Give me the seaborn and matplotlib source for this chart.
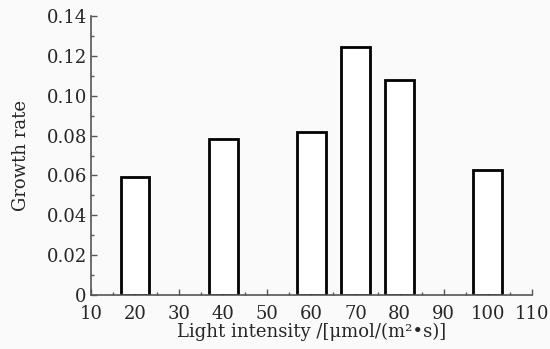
import matplotlib
matplotlib.use("Agg")
import matplotlib.pyplot as plt
import matplotlib.transforms as mtransforms
import seaborn as sns
import pandas as pd
from matplotlib.ticker import MultipleLocator, FormatStrFormatter, FuncFormatter

intensity = [20, 40, 60, 70, 80, 100]
growth = [0.0594, 0.0785, 0.0820, 0.1245, 0.1080, 0.0627]

sns.set_style("ticks")
plt.rcParams['font.family'] = ['DejaVu Serif']

df = pd.DataFrame({"x": intensity, "y": growth})
fig = plt.figure(figsize=(5.5, 3.49), dpi=100)
fig.patch.set_facecolor('#fafafa')
ax = fig.add_axes([0.1655, 0.1547, 0.8015, 0.7993])
ax.set_facecolor('#fafafa')
sns.barplot(data=df, x="x", y="y", native_scale=True, width=0.65,
            facecolor='white', edgecolor='black', linewidth=2, ax=ax, errorbar=None)
ax.set_xlim(10, 110)
ax.set_ylim(0, 0.14)
ax.xaxis.set_major_locator(MultipleLocator(10))
ax.xaxis.set_minor_locator(MultipleLocator(5))
ax.yaxis.set_major_locator(MultipleLocator(0.02))
ax.yaxis.set_minor_locator(MultipleLocator(0.01))
ax.xaxis.set_major_formatter(FormatStrFormatter('%d'))
ax.yaxis.set_major_formatter(FuncFormatter(lambda v, p: '0' if abs(v) < 1e-9 else f'{v:.2f}'))
for s in ['top', 'right']:
    ax.spines[s].set_visible(False)
for s in ['left', 'bottom']:
    ax.spines[s].set_color('#555555')
    ax.spines[s].set_linewidth(1.2)
ax.tick_params(which='major', direction='in', length=4, width=1, color='#555555', labelsize=13)
ax.tick_params(axis='x', which='major', pad=7)
ax.tick_params(axis='y', which='major', pad=3)
ax.tick_params(which='minor', direction='in', length=2.5, width=1, color='#555555')
ax.set_xlabel('Light intensity /[μmol/(m²•s)]', fontsize=13, labelpad=0)
ax.set_ylabel('Growth rate', fontsize=13, labelpad=12)
fig.canvas.draw()
lbl0 = ax.get_yticklabels()[0]
lbl0.set_transform(lbl0.get_transform() + mtransforms.ScaledTranslation(0, 6/72, fig.dpi_scale_trans))
fig.savefig('out.png', dpi=100, facecolor=fig.get_facecolor())
